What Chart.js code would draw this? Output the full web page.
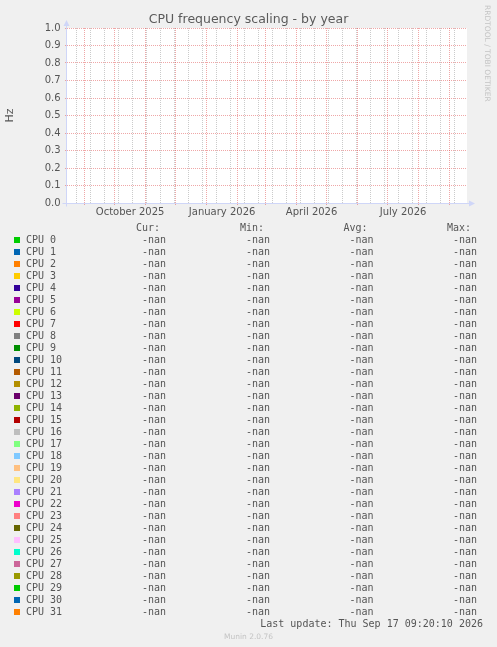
<!DOCTYPE html>
<html>
<head>
<meta charset="utf-8">
<title>CPU frequency scaling - by year</title>
<script src="https://cdn.jsdelivr.net/npm/chart.js@4.4.1/dist/chart.umd.min.js"></script>
<style>
html, body { margin: 0; padding: 0; background: #f0f0f0; }
#page { position: relative; width: 497px; height: 647px; overflow: hidden; color: #555; }
#chartBox { position: absolute; left: 0; top: 0; width: 497px; height: 230px; }
.row { position: absolute; left: 0; width: 497px; height: 12px; line-height: 12px;
       font: 10px "DejaVu Sans Mono", monospace; white-space: pre; }
.row span { position: absolute; top: 0; }
.swatch { position: absolute; left: 14px; top: 3px; width: 6px; height: 6px; }
#munin { position: absolute; left: 0; width: 497px; top: 631.6px; text-align: center;
         font: 7.5px "DejaVu Sans", sans-serif; line-height: 9px; color: #c4c4c4; }
#rrdtool { position: absolute; left: 483px; top: 5px; width: 9px; line-height: 9px;
           writing-mode: vertical-rl; font: 7.5px "DejaVu Sans", sans-serif; color: #c4c4c4; white-space: nowrap; }
</style>
</head>
<body>
<div id="page">
  <div id="chartBox"><canvas id="freqChart" width="497" height="230"></canvas></div>
  <div id="legend"></div>
  <div id="munin">Munin 2.0.76</div>
  <div id="rrdtool">RRDTOOL / TOBI OETIKER</div>
</div>
<script>
// series names and their munin colours
const cpuLabels = ['CPU 0', 'CPU 1', 'CPU 2', 'CPU 3', 'CPU 4', 'CPU 5', 'CPU 6', 'CPU 7',
    'CPU 8', 'CPU 9', 'CPU 10', 'CPU 11', 'CPU 12', 'CPU 13', 'CPU 14', 'CPU 15',
    'CPU 16', 'CPU 17', 'CPU 18', 'CPU 19', 'CPU 20', 'CPU 21', 'CPU 22', 'CPU 23',
    'CPU 24', 'CPU 25', 'CPU 26', 'CPU 27', 'CPU 28', 'CPU 29', 'CPU 30', 'CPU 31'];
const cpuColors = ['#00CC00', '#0066B3', '#FF8000', '#FFCC00', '#330099', '#990099', '#CCFF00', '#FF0000',
    '#808080', '#008F00', '#00487D', '#B35A00', '#B38F00', '#6B006B', '#8FB300', '#B30000',
    '#BEBEBE', '#80FF80', '#80C9FF', '#FFC080', '#FFE680', '#AA80FF', '#EE00CC', '#FF8080',
    '#666600', '#FFBFFF', '#00FFCC', '#CC6699', '#999900', '#00CC00', '#0066B3', '#FF8000'];

// no sample was stored for any cpu during the year, every value is nan
const cpuSamples = cpuLabels.map(() => []);
const statHeaders = ['Cur:', 'Min:', 'Avg:', 'Max:'];
const cpuCur = cpuLabels.map(() => NaN);
const cpuMin = cpuLabels.map(() => NaN);
const cpuAvg = cpuLabels.map(() => NaN);
const cpuMax = cpuLabels.map(() => NaN);
const lastUpdate = 'Thu Sep 17 09:20:10 2026';

// y axis
const yTickValues = [0.0, 0.1, 0.2, 0.3, 0.4, 0.5, 0.6, 0.7, 0.8, 0.9, 1.0];

// x axis, in days counted from 2025-09-01
const dayZero = Date.parse('2025-09-01T00:00:00Z');
const toDay = s => (Date.parse(s + 'T00:00:00Z') - dayZero) / 86400000;
const viewStart = -17.6;
const viewEnd = 382.4;
const monthStarts = ['2025-09-01', '2025-10-01', '2025-11-01', '2025-12-01', '2026-01-01',
    '2026-02-01', '2026-03-01', '2026-04-01', '2026-05-01', '2026-06-01', '2026-07-01',
    '2026-08-01', '2026-09-01', '2026-10-01'];
const labelMonths = ['2025-10-01', '2026-01-01', '2026-04-01', '2026-07-01'];
const tickLabels = ['October 2025', 'January 2026', 'April 2026', 'July 2026'];
const minorGridStart = '2025-08-24';
const minorGridStep = 14;

const MAJOR = 'rgba(224, 80, 80, 0.5)';
const MINOR = 'rgba(140, 140, 140, 0.45)';
const AXIS = '#CFD6F8';
const NONE = 'rgba(0, 0, 0, 0)';

// build the x ticks: month lines, two-week lines and the month labels
const xTicks = [];
for (let d = toDay(minorGridStart); d <= viewEnd; d += minorGridStep) {
    xTicks.push({ value: d, kind: 'minor' });
}
monthStarts.forEach(m => {
    const d = toDay(m);
    if (d >= viewStart && d <= viewEnd) xTicks.push({ value: d, kind: 'major' });
});
labelMonths.forEach((m, i) => {
    const k = monthStarts.indexOf(m);
    const mid = (toDay(monthStarts[k]) + toDay(monthStarts[k + 1])) / 2;
    xTicks.push({ value: mid, kind: 'label', text: tickLabels[i] });
});
xTicks.sort((a, b) => a.value - b.value);

const gridColor = kind => kind === 'major' ? MAJOR : kind === 'minor' ? MINOR : NONE;

// white canvas, axes and arrows like rrdtool
const rrdFrame = {
    id: 'rrdFrame',
    beforeDraw(chart) {
        const { ctx, chartArea: a } = chart;
        ctx.save();
        ctx.fillStyle = '#ffffff';
        ctx.fillRect(a.left, a.top, a.right - a.left, a.bottom - a.top);
        ctx.restore();
    },
    afterDraw(chart) {
        const { ctx, chartArea: a } = chart;
        const x0 = Math.round(a.left) - 0.5;
        const y0 = Math.round(a.bottom) + 0.5;
        ctx.save();
        ctx.strokeStyle = AXIS;
        ctx.fillStyle = AXIS;
        ctx.lineWidth = 1;
        ctx.beginPath();
        ctx.moveTo(x0, y0 + 3);
        ctx.lineTo(x0, a.top - 5);
        ctx.moveTo(x0 - 4, y0);
        ctx.lineTo(a.right + 4, y0);
        ctx.stroke();
        ctx.beginPath();
        ctx.moveTo(x0, a.top - 8);
        ctx.lineTo(x0 - 3, a.top - 2);
        ctx.lineTo(x0 + 3, a.top - 2);
        ctx.closePath();
        ctx.fill();
        ctx.beginPath();
        ctx.moveTo(a.right + 8, y0);
        ctx.lineTo(a.right + 2, y0 - 3);
        ctx.lineTo(a.right + 2, y0 + 3);
        ctx.closePath();
        ctx.fill();
        ctx.restore();
    }
};

new Chart(document.getElementById('freqChart'), {
    type: 'line',
    data: {
        datasets: cpuLabels.map((label, i) => ({
            label: label,
            data: cpuSamples[i],
            borderColor: cpuColors[i],
            backgroundColor: cpuColors[i],
            borderWidth: 1,
            pointRadius: 0
        }))
    },
    options: {
        responsive: false,
        animation: false,
        events: [],
        layout: { padding: 0 },
        plugins: {
            legend: { display: false },
            tooltip: { enabled: false },
            title: {
                display: true,
                text: 'CPU frequency scaling - by year',
                color: '#5a5a5a',
                font: { family: 'DejaVu Sans', size: 12.5, weight: 'normal', lineHeight: 1 },
                padding: { top: 13.25, bottom: 2.25 }
            }
        },
        scales: {
            x: {
                type: 'linear',
                min: viewStart,
                max: viewEnd,
                afterBuildTicks: scale => { scale.ticks = xTicks.map(t => Object.assign({}, t)); },
                afterFit: scale => { scale.height = 27; },
                ticks: {
                    autoSkip: false,
                    maxRotation: 0,
                    padding: 1,
                    color: '#555',
                    font: { family: 'DejaVu Sans', size: 10 },
                    callback: (v, i, ticks) => ticks[i].text || ''
                },
                grid: {
                    color: ctx => gridColor(ctx.tick && ctx.tick.kind),
                    tickColor: ctx => ctx.tick && ctx.tick.kind === 'major' ? MAJOR : NONE,
                    tickLength: 2,
                    lineWidth: 1
                },
                border: { display: false, dash: [1, 1] }
            },
            y: {
                min: 0,
                max: 1,
                afterBuildTicks: scale => { scale.ticks = yTickValues.map(v => ({ value: v })); },
                afterFit: scale => { scale.width = 67; },
                title: {
                    display: true,
                    text: 'Hz',
                    color: '#555',
                    font: { family: 'DejaVu Sans', size: 11, lineHeight: 1.2 },
                    padding: { top: 3.4, bottom: 0 }
                },
                ticks: {
                    padding: 4.4,
                    color: '#555',
                    font: { family: 'DejaVu Sans', size: 10 },
                    callback: v => v.toFixed(1)
                },
                grid: { color: MAJOR, tickColor: MAJOR, tickLength: 2, lineWidth: 1 },
                border: { display: false, dash: [1, 1] }
            },
            // empty strip on the right, where rrdtool keeps its margin
            margin: {
                position: 'right',
                min: 0,
                max: 1,
                afterFit: scale => { scale.width = 30; },
                ticks: { display: false },
                grid: { display: false, drawTicks: false },
                border: { display: false }
            }
        }
    },
    plugins: [rrdFrame]
});

// legend table under the graph
const fmt = v => isNaN(v) ? '-nan' : v.toFixed(2);
const colLeft = [136, 240, 343.5, 447];
const rowTop = 234;
const legend = document.getElementById('legend');
const addRow = (top, html) => {
    const row = document.createElement('div');
    row.className = 'row';
    row.style.top = top + 'px';
    row.innerHTML = html;
    legend.appendChild(row);
};
addRow(rowTop - 12, statHeaders.map((h, i) => `<span style="left:${colLeft[i]}px">${h}</span>`).join(''));
cpuLabels.forEach((label, i) => {
    const vals = [cpuCur[i], cpuMin[i], cpuAvg[i], cpuMax[i]];
    addRow(rowTop + 12 * i,
        `<div class="swatch" style="background:${cpuColors[i]}"></div>` +
        `<span style="left:26px">${label}</span>` +
        vals.map((v, k) => `<span style="right:${497 - colLeft[k] - 30}px">${fmt(v)}</span>`).join(''));
});
addRow(rowTop + 12 * cpuLabels.length, `<span style="right:14px">Last update: ${lastUpdate}</span>`);
</script>
</body>
</html>
